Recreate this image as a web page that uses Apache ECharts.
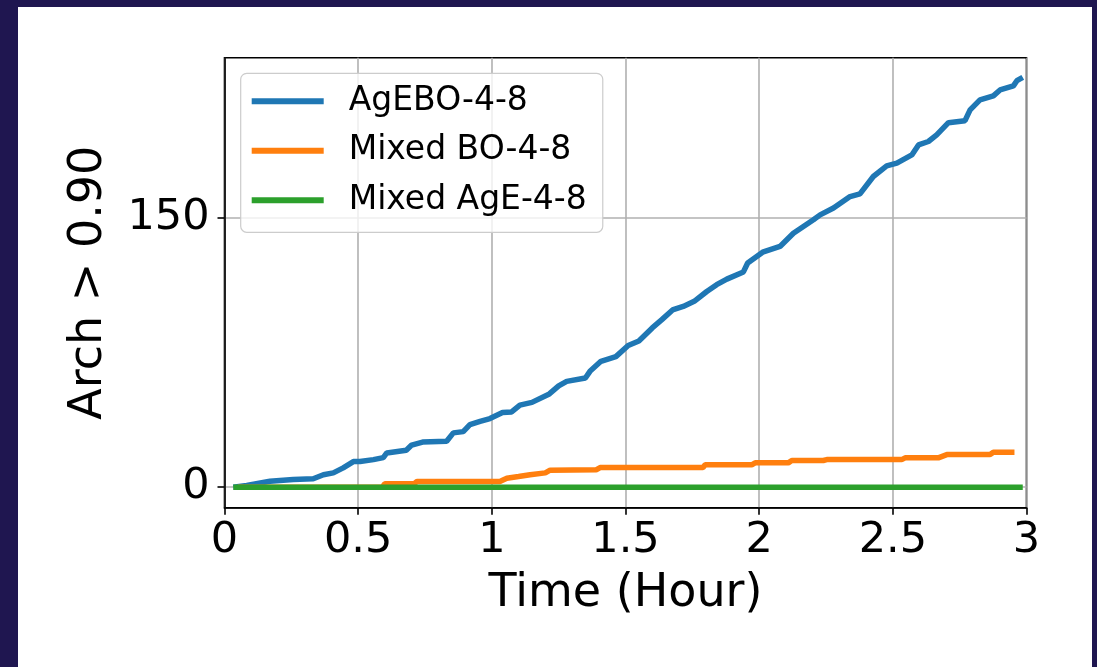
<!DOCTYPE html>
<html>
<head>
<meta charset="utf-8">
<script src="https://cdn.jsdelivr.net/npm/echarts@6/dist/echarts.min.js"></script>
<style>
html, body { margin: 0; padding: 0; background: #1f1650; }
#frame { position: absolute; left: 18px; top: 7px; width: 1074px; height: 660px; background: #ffffff; }
#main { position: absolute; left: 0; top: 0; width: 1097px; height: 667px; }
</style>
</head>
<body>
<div id="frame"></div>
<div id="main"></div>
<script>
// 名称
var names = ['AgEBO-4-8', 'Mixed BO-4-8', 'Mixed AgE-4-8'];
var colors = ['#1f77b4', '#ff7f0e', '#2ca02c'];
var xTicks = [0, 0.5, 1, 1.5, 2, 2.5, 3];
var yTicks = [0, 150];

// [时间(小时), 数量]
var agebo = [
	[0.033,0],[0.083,1],[0.17,3.3],[0.257,4.3],[0.332,4.7],[0.37,7],[0.407,8],[0.444,10.8],
	[0.482,14.3],[0.507,14.3],[0.557,15.4],[0.594,16.5],[0.607,19.1],[0.68,20.6],[0.70,23.5],
	[0.741,25.2],[0.831,25.6],[0.856,30.3],[0.893,31],[0.918,34.9],[0.956,36.7],[0.993,38.3],
	[1.04,41.6],[1.074,42],[1.105,45.8],[1.15,47.3],[1.215,52],[1.25,56.5],[1.28,59],[1.35,60.9],
	[1.367,64.6],[1.408,70.2],[1.464,72.8],[1.51,79],[1.55,81.5],[1.60,88.8],[1.636,93.4],
	[1.676,98.8],[1.716,100.8],[1.757,103.6],[1.804,109.1],[1.841,112.9],[1.879,116],[1.941,120],
	[1.957,125],[2.013,131],[2.078,134.2],[2.128,141.6],[2.203,149.1],[2.228,151.8],[2.278,155.6],
	[2.34,162],[2.377,163.5],[2.427,173.2],[2.477,179.1],[2.515,180.6],[2.571,185.2],[2.596,190.8],
	[2.633,192.7],[2.664,196.4],[2.708,203.2],[2.77,204.3],[2.789,210.3],[2.826,215.9],[2.876,218.1],
	[2.901,221.4],[2.951,223.7],[2.964,226.6],[2.986,228.5]
];
var mixedBo = [
	[0.05,0],[0.59,0],[0.6,2],[0.71,2],[0.72,3.2],[1.03,3.2],[1.056,5],[1.1,6],[1.143,7],[1.2,8],
	[1.218,9.5],[1.39,9.7],[1.405,11],[1.79,11],[1.798,12.5],[1.972,12.5],[1.985,13.6],[2.109,13.6],
	[2.122,14.9],[2.24,14.9],[2.253,15.4],[2.533,15.4],[2.546,16.4],[2.67,16.4],[2.702,18.2],
	[2.864,18.2],[2.876,19.5],[2.955,19.5]
];
var mixedAge = [[0.033,0],[2.986,0]];

var font = 'DejaVu Sans';
var myChart;

function line(name, data, color){
	return {
		name: name,
		type: 'line',
		data: data,
		showSymbol: false,
		symbol: 'none',
		animation: false,
		lineStyle: { color: color, width: 5.5 },
		itemStyle: { color: color }
	};
}

option = {
	animation: false,
	grid: { left: 224.5, right: 70.5, top: 57.7, bottom: 159.3, show: true, borderColor: '#000', borderWidth: 1.6, backgroundColor: 'transparent' },
	legend: {
		orient: 'vertical',
		left: 240.7,
		top: 73.3,
		align: 'left',
		icon: 'rect',
		itemWidth: 72,
		itemHeight: 6,
		itemGap: 9.5,
		padding: [8, 16, 12, 11],
		backgroundColor: 'rgba(255,255,255,0.8)',
		borderColor: '#cccccc',
		borderWidth: 1.2,
		borderRadius: 6,
		textStyle: { fontFamily: font, fontSize: 33, color: '#000', lineHeight: 40, padding: [0, 0, 0, 20] },
		data: names
	},
	xAxis: {
		type: 'value',
		min: 0,
		max: 3,
		interval: 0.5,
		name: 'Time (Hour)',
		nameLocation: 'middle',
		nameGap: 63,
		nameTextStyle: { fontFamily: font, fontSize: 46, color: '#000' },
		axisLine: { show: true, onZero: false, lineStyle: { color: '#000', width: 1.6 } },
		axisTick: { show: true, length: 7, lineStyle: { color: '#000', width: 1.6 } },
		axisLabel: { fontFamily: font, fontSize: 43, color: '#000', margin: 12 },
		splitLine: { show: true, lineStyle: { color: '#b0b0b0', width: 1.6 } }
	},
	yAxis: {
		type: 'value',
		min: -11.4,
		max: 239.4,
		name: 'Arch > 0.90',
		nameLocation: 'middle',
		nameGap: 112,
		nameTextStyle: { fontFamily: font, fontSize: 46, color: '#000' },
		axisLine: { show: true, onZero: false, lineStyle: { color: '#000', width: 1.6 } },
		axisTick: { show: true, length: 7, customValues: yTicks, lineStyle: { color: '#000', width: 1.6 } },
		axisLabel: { fontFamily: font, fontSize: 43, color: '#000', margin: 15, customValues: yTicks },
		splitLine: { show: true, lineStyle: { color: '#b0b0b0', width: 1.6 } }
	},
	series: [
		line(names[0], agebo, colors[0]),
		line(names[1], mixedBo, colors[1]),
		line(names[2], mixedAge, colors[2])
	]
};
myChart = echarts.init(document.getElementById('main'));
myChart.setOption(option);
</script>
</body>
</html>
